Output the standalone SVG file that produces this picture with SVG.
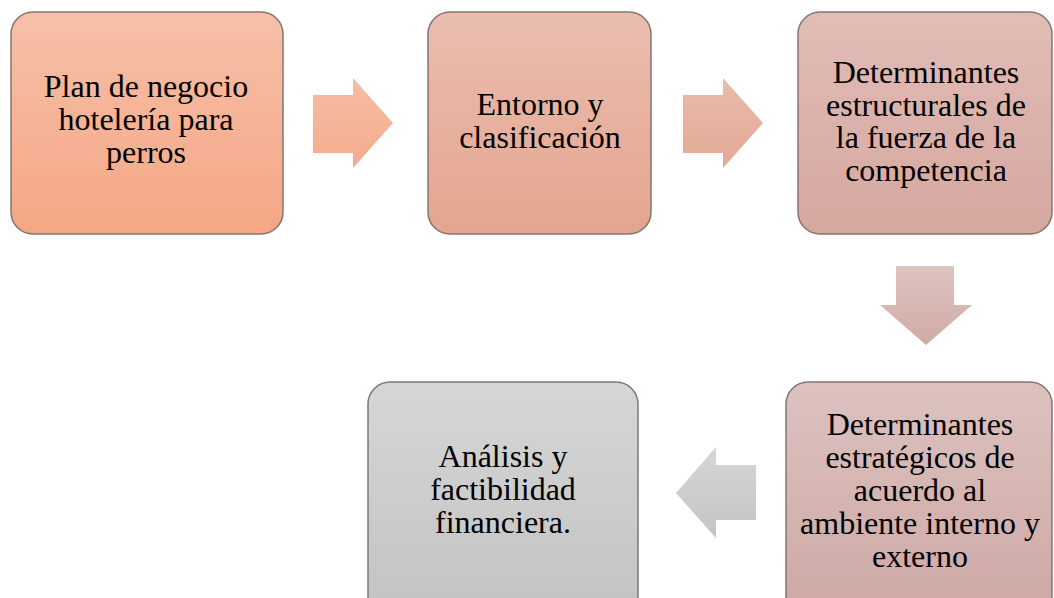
<svg xmlns="http://www.w3.org/2000/svg" width="1054" height="598" viewBox="0 0 1054 598">
<defs>
<linearGradient id="g1" x1="0" y1="0" x2="0" y2="1"><stop offset="0" stop-color="#f6c0a8"/><stop offset="1" stop-color="#f5a685"/></linearGradient>
<linearGradient id="g2" x1="0" y1="0" x2="0" y2="1"><stop offset="0" stop-color="#eabdaf"/><stop offset="1" stop-color="#e4a58f"/></linearGradient>
<linearGradient id="g3" x1="0" y1="0" x2="0" y2="1"><stop offset="0" stop-color="#e1bdb6"/><stop offset="1" stop-color="#d5a79f"/></linearGradient>
<linearGradient id="g4" x1="0" y1="0" x2="0" y2="1"><stop offset="0" stop-color="#dcc2bf"/><stop offset="1" stop-color="#cda7a4"/></linearGradient>
<linearGradient id="g5" x1="0" y1="0" x2="0" y2="1"><stop offset="0" stop-color="#d6d6d6"/><stop offset="1" stop-color="#c2c2c2"/></linearGradient>
<linearGradient id="a1" x1="0" y1="0" x2="0" y2="1"><stop offset="0" stop-color="#f6bda4"/><stop offset="1" stop-color="#f4ab8d"/></linearGradient>
<linearGradient id="a2" x1="0" y1="0" x2="0" y2="1"><stop offset="0" stop-color="#e9bbab"/><stop offset="1" stop-color="#e3a895"/></linearGradient>
<linearGradient id="a3" x1="0" y1="0" x2="0" y2="1"><stop offset="0" stop-color="#dec4c0"/><stop offset="1" stop-color="#d0aaa6"/></linearGradient>
<linearGradient id="a4" x1="0" y1="0" x2="0" y2="1"><stop offset="0" stop-color="#d6d6d6"/><stop offset="1" stop-color="#c4c4c4"/></linearGradient>
</defs>
<style>
.box{stroke:#857570;stroke-width:1.5}
text{font-family:'Liberation Serif','Times New Roman',serif;font-size:32px;fill:#000;text-anchor:middle}
</style>
<rect width="1054" height="598" fill="#ffffff"/>
<g id="connectors">
<polygon points="313,95 353,95 353,78 393,123 353,168 353,153 313,153" fill="url(#a1)"/>
<polygon points="683,95 723,95 723,78 763,123 723,168 723,153 683,153" fill="url(#a2)"/>
<polygon points="896,266 954,266 954,305 972,305 926,345 880,305 896,305" fill="url(#a3)"/>
<polygon points="756,465 716,465 716,447 676,493 716,538 716,520 756,520" fill="url(#a4)"/>
</g>
<g id="n1">
<rect class="box" x="11" y="12" width="272" height="222" rx="22" fill="url(#g1)"/>
<text x="146" y="97">Plan de negocio<tspan x="146" dy="33">hotelería para</tspan><tspan x="146" dy="33">perros</tspan></text>
</g>
<g id="n2">
<rect class="box" x="428" y="12" width="223" height="222" rx="22" fill="url(#g2)"/>
<text x="540" y="115">Entorno y<tspan x="540" dy="33">clasificación</tspan></text>
</g>
<g id="n3">
<rect class="box" x="798" y="12" width="254" height="222" rx="22" fill="url(#g3)"/>
<text x="926" y="83">Determinantes<tspan x="926" dy="32.5">estructurales de</tspan><tspan x="926" dy="32.5">la fuerza de la</tspan><tspan x="926" dy="32.5">competencia</tspan></text>
</g>
<g id="n4">
<rect class="box" x="786" y="382" width="266" height="240" rx="22" fill="url(#g4)"/>
<text x="920" y="435">Determinantes<tspan x="920" dy="33">estratégicos de</tspan><tspan x="920" dy="32.5">acuerdo al</tspan><tspan x="920" dy="33">ambiente interno y</tspan><tspan x="920" dy="33">externo</tspan></text>
</g>
<g id="n5">
<rect class="box" x="368" y="382" width="270" height="240" rx="22" fill="url(#g5)"/>
<text x="503" y="467">Análisis y<tspan x="503" dy="33">factibilidad</tspan><tspan x="503" dy="33">financiera.</tspan></text>
</g>
</svg>
